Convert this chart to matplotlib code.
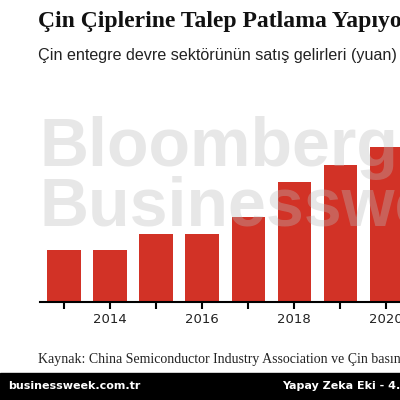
import matplotlib
matplotlib.use("Agg")
import matplotlib.pyplot as plt

years = [2013, 2014, 2015, 2016, 2017, 2018, 2019, 2020]
values = [52, 52, 68, 68, 85, 120, 137, 155]
tick_years = [2014, 2016, 2018, 2020]

fig = plt.figure(figsize=(4, 4), dpi=100)
fig.patch.set_facecolor("white")
ax = fig.add_axes([0.1, 0.245, 0.9, 0.405])
ax.bar(years, values, width=0.72, color="#d23226", zorder=2)
ax.set_xlim(2012.48, 2020.30)
ax.set_ylim(0, 162)
for s in ["top", "right", "left"]:
    ax.spines[s].set_visible(False)
ax.spines["bottom"].set_linewidth(1.5)
ax.set_yticks([])
ax.set_xticks(years)
ax.set_xticklabels([str(y) if y in tick_years else "" for y in years], fontsize=9.5, color="#222222")
ax.tick_params(axis="x", length=5, width=1.5, pad=3)

fig.text(0.1, 0.585, "Bloomberg", fontsize=49, fontweight="bold", color="#bbbbbb", alpha=0.35, zorder=5, family="Liberation Sans")
fig.text(0.1, 0.435, "Businessweek", fontsize=49, fontweight="bold", color="#bbbbbb", alpha=0.35, zorder=5, family="Liberation Sans")

fig.text(0.095, 0.945, "Çin Çiplerine Talep Patlama Yapıyor", fontsize=17, fontweight="bold", family="Liberation Serif", color="#111111", va="center")
fig.text(0.095, 0.862, "Çin entegre devre sektörünün satış gelirleri (yuan)", fontsize=11.6, family="Liberation Sans", color="#222222", va="center")
fig.text(0.095, 0.1, "Kaynak: China Semiconductor Industry Association ve Çin basını", fontsize=10, family="Liberation Serif", color="#222222", va="center")

fig.patches.append(plt.Rectangle((0, 0), 1, 0.068, transform=fig.transFigure, color="black", zorder=1))
fig.text(0.02, 0.036, "businessweek.com.tr", fontsize=8, fontweight="bold", color="white", va="center")
fig.text(0.705, 0.036, "Yapay Zeka Eki - 4.9.2023", fontsize=8, fontweight="bold", color="white", va="center")

fig.savefig("out.png", dpi=100)
